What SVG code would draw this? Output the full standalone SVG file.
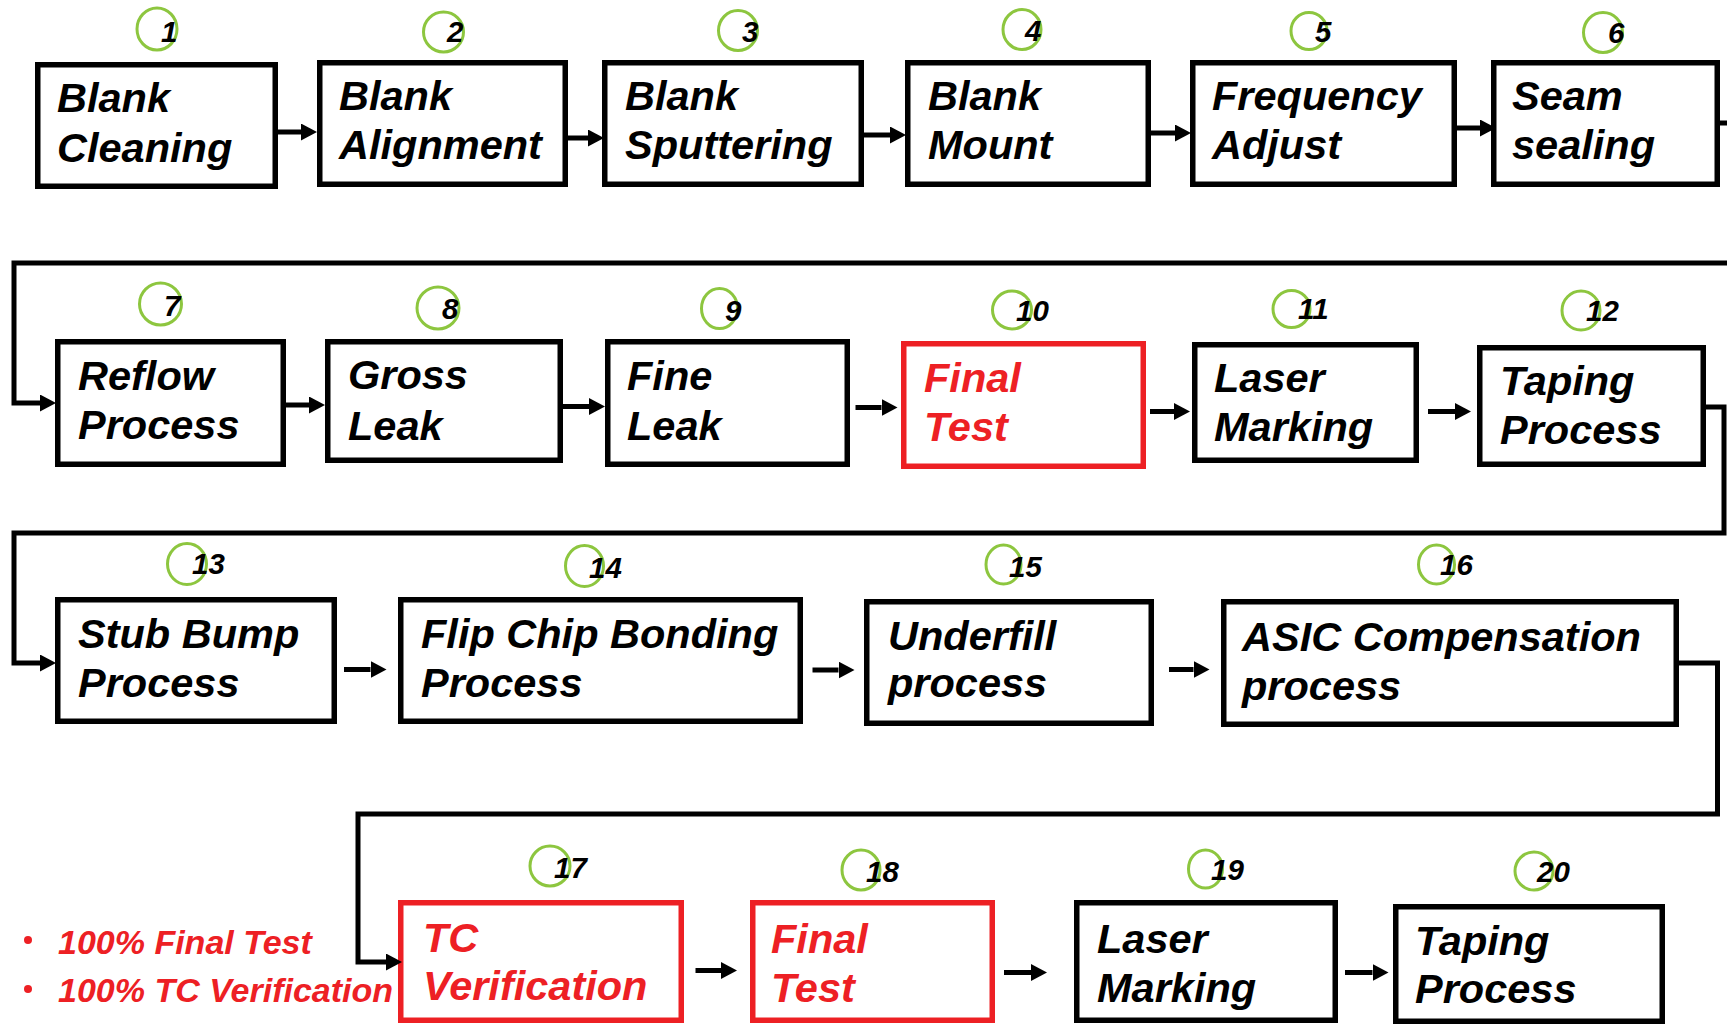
<svg xmlns="http://www.w3.org/2000/svg" width="1727" height="1025" viewBox="0 0 1727 1025">
<style>
.box{fill:#fff;stroke:#000;stroke-width:5.5}
.rbox{fill:#fff;stroke:#ED2024;stroke-width:5.5}
.lbl{font-family:"Liberation Sans",Arial,sans-serif;font-weight:bold;font-style:italic;font-size:41.5px;fill:#000}
.rlbl{fill:#ED2024}
.badge{fill:none;stroke:#8DC63F;stroke-width:3}
.num{font-family:"Liberation Sans",Arial,sans-serif;font-weight:bold;font-style:italic;font-size:29.5px;fill:#000}
.conn{fill:none;stroke:#000;stroke-width:5;marker-end:url(#ah)}
.note{font-family:"Liberation Sans",Arial,sans-serif;font-weight:bold;font-style:italic;font-size:34px;fill:#ED2024}
</style>
<defs>
<marker id="ah" markerUnits="userSpaceOnUse" markerWidth="17" markerHeight="18" refX="0" refY="8.5" orient="auto">
<path d="M0,0 L16,8.5 L0,17 z" fill="#000"/>
</marker>
</defs>
<rect x="0" y="0" width="1727" height="1025" fill="#fff"/>

<g id="n1"><rect class="box" x="37.75" y="64.75" width="237.5" height="121.5"/><text class="lbl" x="57" y="112">Blank</text><text class="lbl" x="57" y="162">Cleaning</text><ellipse class="badge" cx="157" cy="29" rx="20" ry="21"/><text class="num" x="161" y="42">1</text></g>
<g id="n2"><rect class="box" x="319.75" y="62.75" width="245.5" height="121.5"/><text class="lbl" x="339" y="110">Blank</text><text class="lbl" x="339" y="159">Alignment</text><ellipse class="badge" cx="443.5" cy="32" rx="20" ry="20"/><text class="num" x="447" y="42">2</text></g>
<g id="n3"><rect class="box" x="604.75" y="62.75" width="256.5" height="121.5"/><text class="lbl" x="625" y="110">Blank</text><text class="lbl" x="625" y="159">Sputtering</text><ellipse class="badge" cx="738" cy="30.5" rx="19.5" ry="20"/><text class="num" x="742" y="42">3</text></g>
<g id="n4"><rect class="box" x="907.75" y="62.75" width="240.5" height="121.5"/><text class="lbl" x="928" y="110">Blank</text><text class="lbl" x="928" y="159">Mount</text><ellipse class="badge" cx="1022" cy="29.5" rx="19" ry="20"/><text class="num" x="1025" y="41">4</text></g>
<g id="n5"><rect class="box" x="1192.75" y="62.75" width="261.5" height="121.5"/><text class="lbl" x="1212" y="110">Frequency</text><text class="lbl" x="1212" y="159">Adjust</text><ellipse class="badge" cx="1309" cy="31" rx="18" ry="18.5"/><text class="num" x="1315" y="42">5</text></g>
<g id="n6"><rect class="box" x="1493.75" y="62.75" width="223.5" height="121.5"/><text class="lbl" x="1512" y="110">Seam</text><text class="lbl" x="1512" y="159">sealing</text><ellipse class="badge" cx="1603" cy="32.5" rx="19.5" ry="20"/><text class="num" x="1608" y="43">6</text></g>

<g id="n7"><rect class="box" x="57.75" y="341.75" width="225.5" height="122.5"/><text class="lbl" x="78" y="390">Reflow</text><text class="lbl" x="78" y="439">Process</text><ellipse class="badge" cx="160.5" cy="304" rx="21" ry="21"/><text class="num" x="164" y="316">7</text></g>
<g id="n8"><rect class="box" x="327.75" y="341.75" width="232.5" height="118.5"/><text class="lbl" x="348" y="389">Gross</text><text class="lbl" x="348" y="440">Leak</text><ellipse class="badge" cx="438" cy="308" rx="21" ry="21"/><text class="num" x="442" y="319">8</text></g>
<g id="n9"><rect class="box" x="607.75" y="341.75" width="239.5" height="122.5"/><text class="lbl" x="627" y="390">Fine</text><text class="lbl" x="627" y="440">Leak</text><ellipse class="badge" cx="719.5" cy="308.5" rx="18" ry="20"/><text class="num" x="725" y="321">9</text></g>
<g id="n10"><rect class="rbox" x="903.75" y="343.75" width="239.5" height="122.5"/><text class="lbl rlbl" x="924" y="392">Final</text><text class="lbl rlbl" x="924" y="441">Test</text><ellipse class="badge" cx="1012" cy="310" rx="19.5" ry="19"/><text class="num" x="1016" y="321">10</text></g>
<g id="n11"><rect class="box" x="1194.75" y="344.75" width="221.5" height="115.5"/><text class="lbl" x="1214" y="392">Laser</text><text class="lbl" x="1214" y="441">Marking</text><ellipse class="badge" cx="1291.5" cy="309" rx="18.5" ry="18.5"/><text class="num" x="1298" y="319">11</text></g>
<g id="n12"><rect class="box" x="1479.75" y="347.75" width="223.5" height="116.5"/><text class="lbl" x="1500" y="395">Taping</text><text class="lbl" x="1500" y="444">Process</text><ellipse class="badge" cx="1581" cy="310.5" rx="19" ry="19.5"/><text class="num" x="1586" y="321">12</text></g>

<g id="n13"><rect class="box" x="57.75" y="599.75" width="276.5" height="121.5"/><text class="lbl" x="78" y="648">Stub Bump</text><text class="lbl" x="78" y="697">Process</text><ellipse class="badge" cx="187" cy="564" rx="19.5" ry="20.5"/><text class="num" x="192" y="574">13</text></g>
<g id="n14"><rect class="box" x="400.75" y="599.75" width="399.5" height="121.5"/><text class="lbl" x="421" y="648">Flip Chip Bonding</text><text class="lbl" x="421" y="697">Process</text><ellipse class="badge" cx="584.5" cy="566" rx="19" ry="20.5"/><text class="num" x="589" y="578">14</text></g>
<g id="n15"><rect class="box" x="866.75" y="601.75" width="284.5" height="121.5"/><text class="lbl" x="888" y="650">Underfill</text><text class="lbl" x="888" y="697">process</text><ellipse class="badge" cx="1003.5" cy="564.5" rx="17.5" ry="19.5"/><text class="num" x="1009" y="577">15</text></g>
<g id="n16"><rect class="box" x="1223.75" y="601.75" width="452.5" height="122.5"/><text class="lbl" x="1242" y="651">ASIC Compensation</text><text class="lbl" x="1242" y="700">process</text><ellipse class="badge" cx="1436.5" cy="564.5" rx="18" ry="19.5"/><text class="num" x="1440" y="575">16</text></g>

<g id="n17"><rect class="rbox" x="400.75" y="902.75" width="280.5" height="117.5"/><text class="lbl rlbl" x="423" y="952">TC</text><text class="lbl rlbl" x="423" y="1000">Verification</text><ellipse class="badge" cx="550" cy="866" rx="20" ry="20"/><text class="num" x="554" y="878">17</text></g>
<g id="n18"><rect class="rbox" x="752.75" y="902.75" width="239.5" height="117.5"/><text class="lbl rlbl" x="771" y="953">Final</text><text class="lbl rlbl" x="771" y="1002">Test</text><ellipse class="badge" cx="861" cy="870" rx="19" ry="20"/><text class="num" x="866" y="882">18</text></g>
<g id="n19"><rect class="box" x="1076.75" y="902.75" width="258.5" height="117.5"/><text class="lbl" x="1097" y="953">Laser</text><text class="lbl" x="1097" y="1002">Marking</text><ellipse class="badge" cx="1205.5" cy="869" rx="17" ry="19"/><text class="num" x="1211" y="880">19</text></g>
<g id="n20"><rect class="box" x="1395.75" y="906.75" width="266.5" height="114.5"/><text class="lbl" x="1415" y="955">Taping</text><text class="lbl" x="1415" y="1003">Process</text><ellipse class="badge" cx="1534" cy="871" rx="19" ry="19"/><text class="num" x="1537" y="882">20</text></g>

<g id="notes">
<circle cx="28" cy="940" r="4" fill="#ED2024"/><text class="note" x="58" y="954">100% Final Test</text>
<circle cx="28" cy="989" r="4" fill="#ED2024"/><text class="note" x="58" y="1002">100% TC Verification</text>
</g>

<g id="connectors">
<path class="conn" d="M278,132 H301"/>
<path class="conn" d="M568,138 H588"/>
<path class="conn" d="M864,135 H890"/>
<path class="conn" d="M1151,133 H1175"/>
<path class="conn" d="M1457,128 H1480"/>
<path class="conn" d="M1720,123 H1740 V263 H14 V403 H40" stroke-linejoin="miter"/>
<path class="conn" d="M286,405 H309"/>
<path class="conn" d="M563,406.5 H589"/>
<path class="conn" d="M855.5,407.5 H881.5"/>
<path class="conn" d="M1150,411.5 H1174"/>
<path class="conn" d="M1428,411.5 H1455"/>
<path class="conn" d="M1706,407 H1724 V533 H14 V663 H40" stroke-linejoin="miter"/>
<path class="conn" d="M344,669.5 H370.5"/>
<path class="conn" d="M812.5,670 H838.5"/>
<path class="conn" d="M1169,669.5 H1193.5"/>
<path class="conn" d="M1679,663 H1717.5 V814 H358 V962 H386" stroke-linejoin="miter"/>
<path class="conn" d="M695.5,970.5 H721"/>
<path class="conn" d="M1004,972.5 H1031"/>
<path class="conn" d="M1345,972.5 H1372.5"/>
</g>
</svg>
